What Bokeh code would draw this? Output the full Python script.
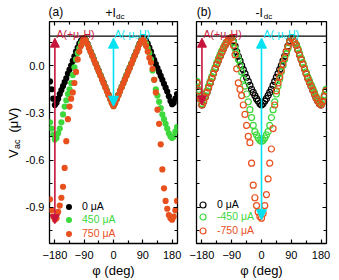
import math
from bokeh.plotting import figure
from bokeh.models import (Range1d, LinearAxis, FixedTicker, PrintfTickFormatter, Span, Arrow,
                          NormalHead, Label, Legend, LegendItem, CustomJSTickFormatter)
from bokeh.core.properties import value
from bokeh.layouts import row, column
from bokeh.embed import file_html
from bokeh.resources import INLINE

# ---------------- data ----------------
phi = [-195, -190, -185, -180, -175, -170, -165, -160, -155, -150, -145, -140, -135, -130,
       -125, -120, -115, -110, -105, -100, -95, -90, -85, -80, -75, -70, -65, -60, -55, -50,
       -45, -40, -35, -30, -25, -20, -15, -10, -5, 0, 5, 10, 15, 20, 25, 30, 35, 40, 45, 50,
       55, 60, 65, 70, 75, 80, 85, 90, 95, 100, 105, 110, 115, 120, 125, 130, 135, 140, 145,
       150, 155, 160, 165, 170, 175, 180, 185, 190, 195]

# panel (a): +Idc, filled symbols
a_0uA = [-0.10, -0.15, -0.21, -0.25, -0.235, -0.21, -0.18, -0.155, -0.13, -0.105, -0.08, -0.05,
         -0.025, 0.0, 0.03, 0.06, 0.09, 0.115, 0.14, 0.158, 0.17, 0.176,
         0.162, 0.14, 0.115, 0.09, 0.065, 0.04, 0.015, -0.01, -0.035, -0.06, -0.085, -0.11,
         -0.135, -0.16, -0.185, -0.21, -0.235,
         -0.255,
         -0.235, -0.21, -0.185, -0.16, -0.135, -0.11, -0.085, -0.06, -0.035, -0.01, 0.015,
         0.04, 0.065, 0.09, 0.115, 0.14, 0.162,
         0.176,
         0.17, 0.158, 0.14, 0.115, 0.09, 0.06, 0.035, 0.01, -0.015, -0.04, -0.065, -0.09,
         -0.115, -0.14, -0.165, -0.195, -0.225, -0.245, -0.235, -0.21, -0.18]
a_450uA = [-0.36, -0.40, -0.44, -0.47, -0.46, -0.43, -0.40, -0.36, -0.31, -0.26, -0.22, -0.18,
           -0.15, -0.11, -0.06, -0.01, 0.04, 0.08, 0.11, 0.14, 0.16, 0.176,
           0.160, 0.138, 0.113, 0.088, 0.063, 0.038, 0.013, -0.012, -0.037, -0.062, -0.087,
           -0.112, -0.137, -0.162, -0.187, -0.212, -0.237,
           -0.257,
           -0.237, -0.212, -0.187, -0.162, -0.137, -0.112, -0.087, -0.062, -0.037, -0.012,
           0.013, 0.038, 0.063, 0.088, 0.113, 0.138, 0.160,
           0.176,
           0.16, 0.14, 0.11, 0.08, 0.04, -0.03, -0.09, -0.15, -0.19, -0.23, -0.27, -0.31,
           -0.34, -0.37, -0.40, -0.43, -0.45, -0.46, -0.45, -0.42, -0.39]
a_750uA = [-0.85, -0.92, -0.96, -0.98, -0.97, -0.93, -0.89, -0.84, -0.77, -0.65, -0.48, -0.34,
           -0.26, -0.21, -0.17, -0.11, -0.04, 0.04, 0.09, 0.125, 0.155, 0.176,
           0.158, 0.136, 0.111, 0.086, 0.061, 0.036, 0.011, -0.014, -0.039, -0.064, -0.089,
           -0.114, -0.139, -0.164, -0.189, -0.214, -0.239,
           -0.258,
           -0.239, -0.214, -0.189, -0.164, -0.139, -0.114, -0.089, -0.064, -0.039, -0.014,
           0.011, 0.036, 0.061, 0.086, 0.111, 0.136, 0.158,
           0.176,
           0.155, 0.125, 0.09, 0.05, 0.02, -0.02, -0.09, -0.17, -0.28, -0.37, -0.50, -0.66,
           -0.78, -0.86, -0.91, -0.95, -0.97, -0.98, -0.96, -0.92, -0.86]

# panel (b): -Idc, open symbols
b_0uA = [-0.11, -0.16, -0.21, -0.25, -0.23, -0.20, -0.17, -0.14, -0.11, -0.08, -0.05, -0.02,
         0.01, 0.035, 0.06, 0.085, 0.11, 0.13, 0.15, 0.165, 0.173, 0.178,
         0.155, 0.125, 0.09, 0.06, 0.03, 0.0, -0.025, -0.05, -0.075, -0.10, -0.125, -0.15,
         -0.17, -0.19, -0.21, -0.225, -0.24,
         -0.25,
         -0.24, -0.225, -0.21, -0.19, -0.17, -0.15, -0.125, -0.10, -0.075, -0.05, -0.025,
         0.0, 0.03, 0.06, 0.09, 0.125, 0.155,
         0.178,
         0.165, 0.15, 0.13, 0.10, 0.07, 0.04, 0.01, -0.02, -0.05, -0.08, -0.105, -0.13,
         -0.155, -0.18, -0.205, -0.225, -0.24, -0.25, -0.23, -0.195, -0.16]
b_m450uA = [-0.10, -0.15, -0.20, -0.24, -0.22, -0.19, -0.16, -0.13, -0.10, -0.07, -0.04, -0.01,
            0.02, 0.045, 0.07, 0.095, 0.115, 0.135, 0.152, 0.166, 0.174, 0.178,
            0.15, 0.11, 0.075, 0.04, 0.0, -0.04, -0.085, -0.13, -0.18, -0.23, -0.28, -0.33,
            -0.38, -0.42, -0.44, -0.46, -0.475,
            -0.48,
            -0.475, -0.46, -0.44, -0.42, -0.38, -0.33, -0.28, -0.23, -0.18, -0.13, -0.085,
            -0.04, 0.0, 0.04, 0.075, 0.11, 0.15,
            0.178,
            0.167, 0.153, 0.135, 0.11, 0.08, 0.05, 0.02, -0.01, -0.04, -0.07, -0.095, -0.12,
            -0.145, -0.17, -0.195, -0.215, -0.23, -0.24, -0.22, -0.185, -0.15]
b_m750uA = [-0.11, -0.16, -0.21, -0.25, -0.23, -0.20, -0.17, -0.14, -0.11, -0.08, -0.05, -0.02,
            0.01, 0.035, 0.06, 0.085, 0.11, 0.13, 0.15, 0.165, 0.173, 0.178,
            0.13, 0.07, -0.02, -0.11, -0.15, -0.19, -0.25, -0.31, -0.38, -0.45, -0.49, -0.62,
            -0.76, -0.84, -0.89, -0.93, -0.96,
            -0.97,
            -0.94, -0.89, -0.82, -0.72, -0.62, -0.53, -0.40, -0.25, -0.16, -0.11, -0.07,
            -0.03, 0.01, 0.05, 0.09, 0.12, 0.15,
            0.178,
            0.165, 0.15, 0.13, 0.10, 0.07, 0.04, 0.01, -0.02, -0.05, -0.08, -0.105, -0.13,
            -0.155, -0.18, -0.205, -0.225, -0.24, -0.25, -0.23, -0.195, -0.16]

labels_a = ["0 μA", "450 μA", "750 μA"]
labels_b = ["0 μA", "-450 μA", "-750 μA"]

x_ticks = [-180, -90, 0, 90, 180]
x_minor = [-135, -45, 45, 135]
y_ticks = [0.0, -0.3, -0.6, -0.9]
y_minor = [0.15, -0.15, -0.45, -0.75, -1.05]

arrow_phi = [-180, 0]       # field directions marked by arrows
arrow_top = 0.175           # common upper end of the arrows

# ---------------- style ----------------
FONT = "Liberation Sans"
BLACK, GREEN, ORANGE = "black", "#3cd83c", "#e8501e"
RED, CYAN = "#c8143c", "#00e2f2"
X_RANGE = (-196.5, 196.5)
Y_RANGE = (-1.131, 0.281)
SEP = 0.1875
TOP_H = 21          # height of the strip with the panel titles
YLAB_W = 22         # width of the strip with the y-axis title
H = 280


def style_axis(ax, labels):
    ax.major_tick_in = 4
    ax.major_tick_out = 0
    ax.minor_tick_in = 3
    ax.minor_tick_out = 0
    ax.major_tick_line_color = "black"
    ax.minor_tick_line_color = "black"
    ax.major_tick_line_width = 1.2
    ax.minor_tick_line_width = 1.2
    ax.axis_line_color = None
    if labels:
        ax.major_label_text_font = FONT
        ax.major_label_text_font_size = "11px"
        ax.major_label_text_color = "black"
    else:
        ax.formatter = CustomJSTickFormatter(code="return ''")
        ax.major_label_standoff = 0


def make_panel(width, bl, br, ylabels):
    p = figure(width=width, height=H - TOP_H, x_range=Range1d(*X_RANGE),
               y_range=Range1d(*Y_RANGE), min_border_left=bl, min_border_right=br,
               min_border_top=0, min_border_bottom=33, output_backend="svg",
               toolbar_location=None)
    p.xgrid.visible = False
    p.ygrid.visible = False
    p.outline_line_color = "black"
    p.outline_line_width = 1.3
    xt = FixedTicker(ticks=x_ticks, minor_ticks=x_minor)
    yt = FixedTicker(ticks=y_ticks, minor_ticks=y_minor)
    p.xaxis.ticker = xt
    p.yaxis.ticker = yt
    p.yaxis.formatter = PrintfTickFormatter(format="%.1f")
    xa = p.xaxis[0]
    style_axis(xa, True)
    xa.major_label_standoff = 7
    xa.axis_label = "φ (deg)"
    xa.axis_label_text_font = FONT
    xa.axis_label_text_font_size = "13px"
    xa.axis_label_text_font_style = "normal"
    xa.axis_label_text_color = "black"
    xa.axis_label_standoff = 1
    style_axis(p.yaxis[0], ylabels)
    if ylabels:
        p.yaxis[0].major_label_standoff = 5
    top = LinearAxis(ticker=xt)
    style_axis(top, False)
    top.major_label_text_font_size = "0px"
    p.add_layout(top, "above")
    right = LinearAxis(ticker=yt)
    style_axis(right, False)
    p.add_layout(right, "right")
    p.add_layout(Span(location=SEP, dimension="width", line_color="black", line_width=1.3))
    return p


def strip(width, height, x_range, y_range, bl=0, br=0):
    s = figure(width=width, height=height, x_range=x_range, y_range=y_range,
               min_border_left=bl, min_border_right=br, min_border_top=0,
               min_border_bottom=0, x_axis_location=None, y_axis_location=None,
               output_backend="svg", toolbar_location=None)
    s.grid.visible = False
    s.outline_line_color = None
    return s


def txt(p, x, y, text, size, color="black", angle=0.0, baseline="middle"):
    p.text(x=[x], y=[y], text=[text], text_font=value(FONT), text_font_size=size,
           text_color=color, text_align="left", text_baseline=baseline, angle=angle)


def lab(p, x, y, text, color="black", size="12px"):
    p.add_layout(Label(x=x, y=y, text=text, text_color=color, text_font=FONT,
                       text_font_size=size, text_align="left", text_baseline="alphabetic"))


def arrow(p, x, y0, y1, color, size):
    p.add_layout(Arrow(start=NormalHead(size=size, fill_color=color, line_color=color),
                       end=NormalHead(size=size, fill_color=color, line_color=color),
                       x_start=x, y_start=y0, x_end=x, y_end=y1,
                       line_color=color, line_width=1.6))


def add_leg(p, r, text, color, x, y, standoff):
    p.add_layout(Legend(items=[LegendItem(label=text, renderers=[r])], location=(x, y),
                        glyph_width=15, glyph_height=15, label_standoff=standoff,
                        label_height=15, label_text_font=FONT, label_text_font_size="10.5px",
                        label_text_color=color, padding=0, margin=0, spacing=0,
                        background_fill_alpha=0, border_line_color=None))


colors = [BLACK, GREEN, ORANGE]
i180 = phi.index(-180)
i0 = phi.index(0)
GAP_A, GAP_B = 10, 9      # the 19 px gap between the frames, split over both canvases

# ---------------- panel (a) ----------------
pa = make_panel(25 + 130 + GAP_A, 25, GAP_A, True)
ra = []
for ys, c in zip([a_0uA, a_450uA, a_750uA], colors):
    ra.append(pa.scatter(phi, ys, marker="circle", size=6.2, fill_color=c, line_color=None))

arrow(pa, arrow_phi[0], arrow_top, a_750uA[i180] - 0.025, RED, 9)
arrow(pa, arrow_phi[1], arrow_top, a_750uA[i0], CYAN, 10)

for k, (r, t, c) in enumerate(zip(ra, labels_a, colors)):
    add_leg(pa, r, t, c, 12, [29.5, 16.5, 2.5][k], 6)

lab(pa, -175.3, 0.2, "A(+μ₀H)", RED, "10.5px")
lab(pa, 3.0, 0.2, "A(-μ₀H)", CYAN, "10.5px")
# separator line continuing through the gap between the panels
pa.add_layout(Arrow(start=None, end=None, x_start=X_RANGE[1], y_start=SEP,
                    x_end=X_RANGE[1] + 60, y_end=SEP, line_color="black", line_width=1.3),
              "right")

# ---------------- panel (b) ----------------
pb = make_panel(GAP_B + 130 + 13, GAP_B, 13, False)
rb = []
for ys, c in zip([b_0uA, b_m450uA, b_m750uA], colors):
    rb.append(pb.scatter(phi, ys, marker="circle", size=6, fill_color=None, line_color=c,
                         line_width=1.2))

arrow(pb, arrow_phi[0], arrow_top, b_m750uA[i180], RED, 9)
arrow(pb, arrow_phi[1], arrow_top, b_m750uA[i0] - 0.01, CYAN, 10)

for k, (r, t, c) in enumerate(zip(rb, labels_b, colors)):
    add_leg(pb, r, t, c, -1, [31.5, 19.5, 5.5][k], 7)

lab(pb, -175.3, 0.2, "A(+μ₀H)", RED, "10.5px")
lab(pb, 6.0, 0.2, "A(-μ₀H)", CYAN, "10.5px")
pb.add_layout(Arrow(start=None, end=None, x_start=X_RANGE[0] - 60, y_start=SEP,
                    x_end=X_RANGE[0], y_end=SEP, line_color="black", line_width=1.3),
              "left")

# ---------------- title strips (text centred vertically on the given y) ----------------
ta = strip(25 + 130 + GAP_A, TOP_H, pa.x_range, Range1d(TOP_H, 0), 25, GAP_A)
txt(ta, -193.5, 11.9, "(a)", "12px")
txt(ta, -21.0, 12.4, "+I", "12px")
txt(ta, 10.5, 16.2, "dc", "8px")

tb = strip(GAP_B + 130 + 13, TOP_H, pb.x_range, Range1d(TOP_H, 0), GAP_B, 13)
txt(tb, -196.0, 11.9, "(b)", "12px")
txt(tb, -18.1, 12.4, "-I", "12px")
txt(tb, 7.0, 16.2, "dc", "8px")

yl = strip(YLAB_W, H, Range1d(0, YLAB_W), Range1d(0, H))
txt(yl, 13.0, H - 157.5, "V", "13px", angle=math.pi / 2)
txt(yl, 16.5, H - 148.5, "ac", "9px", angle=math.pi / 2)
txt(yl, 13.0, H - 132.0, "(μV)", "13px", angle=math.pi / 2)

layout = row(yl, column(row(ta, tb), row(pa, pb)))
open("out.html", "w").write(file_html(layout, INLINE))
